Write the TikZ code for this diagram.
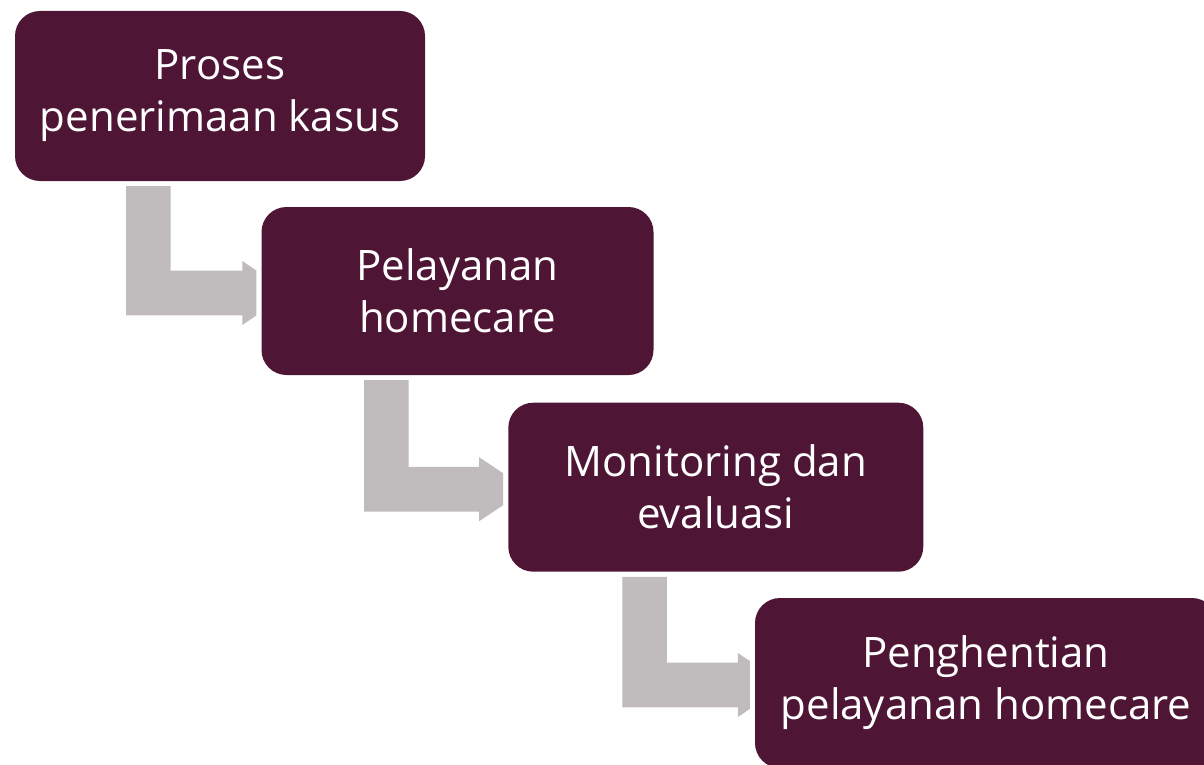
\documentclass[tikz,border=0pt]{standalone}
\usepackage{fontspec}
\setmainfont{Open Sans}
\usetikzlibrary{calc}
\definecolor{boxc}{HTML}{4F1535}
\definecolor{arrc}{HTML}{C0BBBD}
% #1 source node, #2 target node, #3 left x of vertical bar, #4 head length, #5 half height of cut head end
\newcommand\bentarrow[5]{%
  \fill[arrowfill] let \p1=(#1.south), \p2=(#2.west) in
    (#3pt,\y1-5pt) -- (#3pt+44.5pt,\y1-5pt)
    -- (#3pt+44.5pt,\y2-2pt+22.3pt) -- (\x2-5pt-#4pt,\y2-2pt+22.3pt)
    -- (\x2-5pt-#4pt,\y2-2pt+32pt) -- (\x2-5pt,\y2-2pt+#5pt)
    -- (\x2-5pt,\y2-2pt-#5pt) -- (\x2-5pt-#4pt,\y2-2pt-32pt)
    -- (\x2-5pt-#4pt,\y2-2pt-22.3pt) -- (#3pt,\y2-2pt-22.3pt) -- cycle;}
\begin{document}
\begin{tikzpicture}[x=1pt,y=-1pt,
  stepbox/.style={draw=none, fill=boxc, rounded corners=25pt, inner sep=0pt,
    text=white, align=center, font=\fontsize{42}{52}\selectfont},
  arrowfill/.style={fill=arrc}]
\useasboundingbox (0,0) rectangle (1204,765);
\clip (0,0) rectangle (1204,765);
\node[stepbox, minimum width=410pt, minimum height=170pt] (b1) at (220,96) {Proses\\penerimaan kasus};
\node[stepbox, minimum width=392pt, minimum height=168pt] (b2) at (457.5,291) {Pelayanan\\homecare};
\node[stepbox, minimum width=415pt, minimum height=169pt] (b3) at (715.8,487.2) {Monitoring dan\\evaluasi};
\node[stepbox, minimum width=462pt, minimum height=170pt] (b4) at (986,683) {Penghentian\\pelayanan homecare};
\bentarrow{b1}{b2}{126}{14}{22.5}
\bentarrow{b2}{b3}{364}{24}{16}
\bentarrow{b3}{b4}{622.3}{12}{24}
\end{tikzpicture}
\end{document}
